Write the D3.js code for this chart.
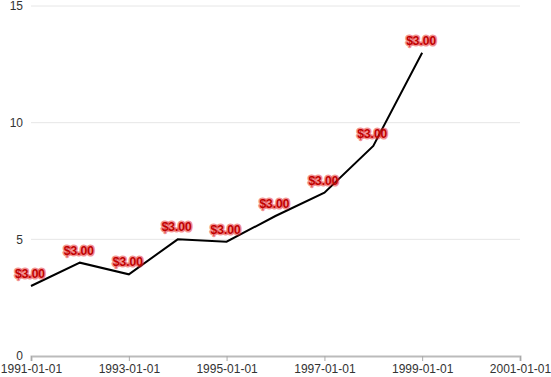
<!DOCTYPE html>
<html>
<head>
<meta charset="utf-8">
<script src="https://cdn.jsdelivr.net/npm/d3@7"></script>
<style>
  body { margin: 0; background: #fff; }
  svg { font-family: "Liberation Sans", Arial, sans-serif; }
</style>
</head>
<body>
<div class="canvas"></div>
<script>
// data
const dates = ['1991-01-01','1992-01-01','1993-01-01','1994-01-01','1995-01-01',
               '1996-01-01','1997-01-01','1998-01-01','1999-01-01'];
const values = [3, 4, 3.5, 5, 4.9, 6, 7, 9, 13];
const labels = ['$3.00','$3.00','$3.00','$3.00','$3.00','$3.00','$3.00','$3.00','$3.00'];
const yTicks = [0, 5, 10, 15];
const xTicks = ['1991-01-01','1993-01-01','1995-01-01','1997-01-01','1999-01-01','2001-01-01'];
const xDomain = ['1991-01-01', '2001-01-01'];

const dims = { width: 551, height: 377 };
const margin = { top: 6, right: 31, bottom: 21, left: 31 };

const parse = d3.timeParse('%Y-%m-%d');
const data = dates.map((d, i) => ({ date: parse(d), value: values[i], label: labels[i] }));

const svg = d3.select('.canvas')
            .append('svg')
            .attr('width', dims.width)
            .attr('height', dims.height);

const x = d3.scaleTime()
            .domain(xDomain.map(parse))
            .range([margin.left, dims.width - margin.right]);

const y = d3.scaleLinear()
            .domain([0, 15])
            .range([dims.height - margin.bottom, margin.top]);

// gridlines
svg.append('g')
   .selectAll('line')
   .data(yTicks.filter(t => t > 0))
   .join('line')
   .attr('x1', margin.left)
   .attr('x2', dims.width - margin.right)
   .attr('y1', d => y(d))
   .attr('y2', d => y(d))
   .attr('stroke', '#e6e6e6')
   .attr('stroke-width', 1);

// y axis (labels only)
const yAxis = svg.append('g')
   .attr('transform', `translate(${margin.left},0)`)
   .call(d3.axisLeft(y).tickValues(yTicks).tickSize(0).tickPadding(8));
yAxis.select('.domain').remove();
yAxis.selectAll('text').attr('fill', '#333').attr('font-size', 12);

// x axis
const xAxis = svg.append('g')
   .attr('transform', `translate(0,${y(0)})`)
   .call(d3.axisBottom(x)
           .tickValues(xTicks.map(parse))
           .tickFormat(d3.timeFormat('%Y-%m-%d'))
           .tickSizeOuter(0)
           .tickSize(5)
           .tickPadding(3));
xAxis.select('.domain').attr('stroke', '#bbb').attr('stroke-width', 2);
xAxis.selectAll('.tick line').attr('stroke', '#aaa');
xAxis.selectAll('text').attr('fill', '#333').attr('font-size', 12);

// line
const line = d3.line()
               .x(d => x(d.date))
               .y(d => y(d.value));

svg.append('path')
   .datum(data)
   .attr('fill', 'none')
   .attr('stroke', '#000')
   .attr('stroke-width', 2)
   .attr('d', line);

// value labels
svg.append('g')
   .selectAll('text')
   .data(data)
   .join('text')
   .attr('x', d => x(d.date) - 1)
   .attr('y', d => y(d.value) - 8)
   .attr('text-anchor', 'middle')
   .attr('font-size', 12)
   .attr('font-weight', 'bold')
   .attr('fill', '#c00000')
   .attr('stroke', 'rgba(230,40,40,0.5)')
   .attr('stroke-width', 3)
   .attr('stroke-linejoin', 'round')
   .attr('paint-order', 'stroke')
   .text(d => d.label);
</script>
</body>
</html>
